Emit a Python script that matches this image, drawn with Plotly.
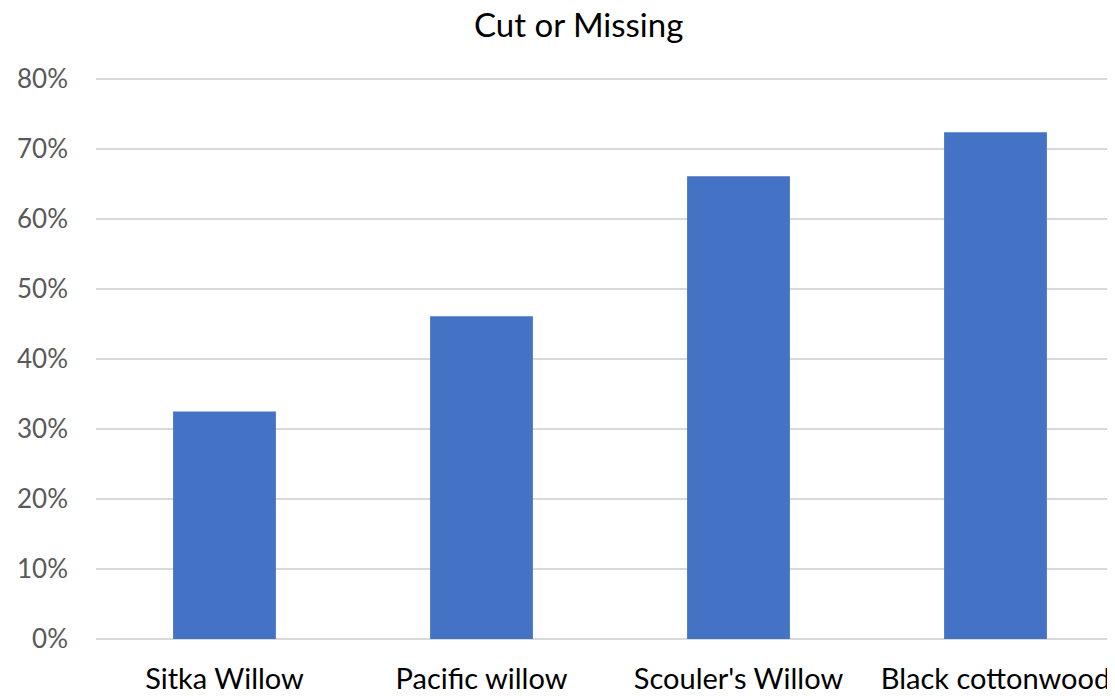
import plotly.graph_objects as go

categories = ["Sitka Willow", "Pacific willow", "Scouler's Willow", "Black cottonwood"]
values = [0.325, 0.461, 0.661, 0.724]
y_ticks = [0, 0.1, 0.2, 0.3, 0.4, 0.5, 0.6, 0.7, 0.8]
y_tick_labels = ["0%", "10%", "20%", "30%", "40%", "50%", "60%", "70%", "80%"]
title_text = "Cut or Missing"

# page body has an 8px margin in the browser, so compensate
W, H = 1115, 696
left, top_px, bottom_px = 88, 68, 631

fig = go.Figure(go.Bar(
    x=list(range(len(categories))),
    y=values,
    width=0.4,
    marker=dict(color="#4472C4", line=dict(width=0)),
))

fig.update_layout(
    width=W, height=H,
    margin=dict(l=left, r=0, t=top_px, b=H - bottom_px),
    paper_bgcolor="white", plot_bgcolor="white",
    font=dict(family="Lato", color="#595959"),
    showlegend=False,
)
fig.add_annotation(
    text=title_text, showarrow=False,
    xref="paper", yref="paper",
    x=(570 - left) / (W - left), xanchor="center",
    y=1 + (top_px - 16) / (bottom_px - top_px), yanchor="middle",
    font=dict(size=33, color="#000000", family="Lato"),
)
fig.update_xaxes(
    range=[-0.5, -0.5 + (W - left) / 257],
    tickmode="array", tickvals=list(range(len(categories))), ticktext=categories,
    tickfont=dict(size=29, color="#000000"),
    showgrid=False, showline=False, zeroline=False, ticks="",
    ticklabelstandoff=20,
)
fig.update_yaxes(
    range=[0, 0.8 + 3/700],
    tickmode="array", tickvals=y_ticks, ticktext=y_tick_labels,
    tickfont=dict(size=26, color="#595959"),
    showgrid=True, gridcolor="#D9D9D9", gridwidth=2,
    zeroline=True, zerolinecolor="#D9D9D9", zerolinewidth=2,
    showline=False, ticks="",
    ticklabelstandoff=27,
)

fig.write_html("out.html")
